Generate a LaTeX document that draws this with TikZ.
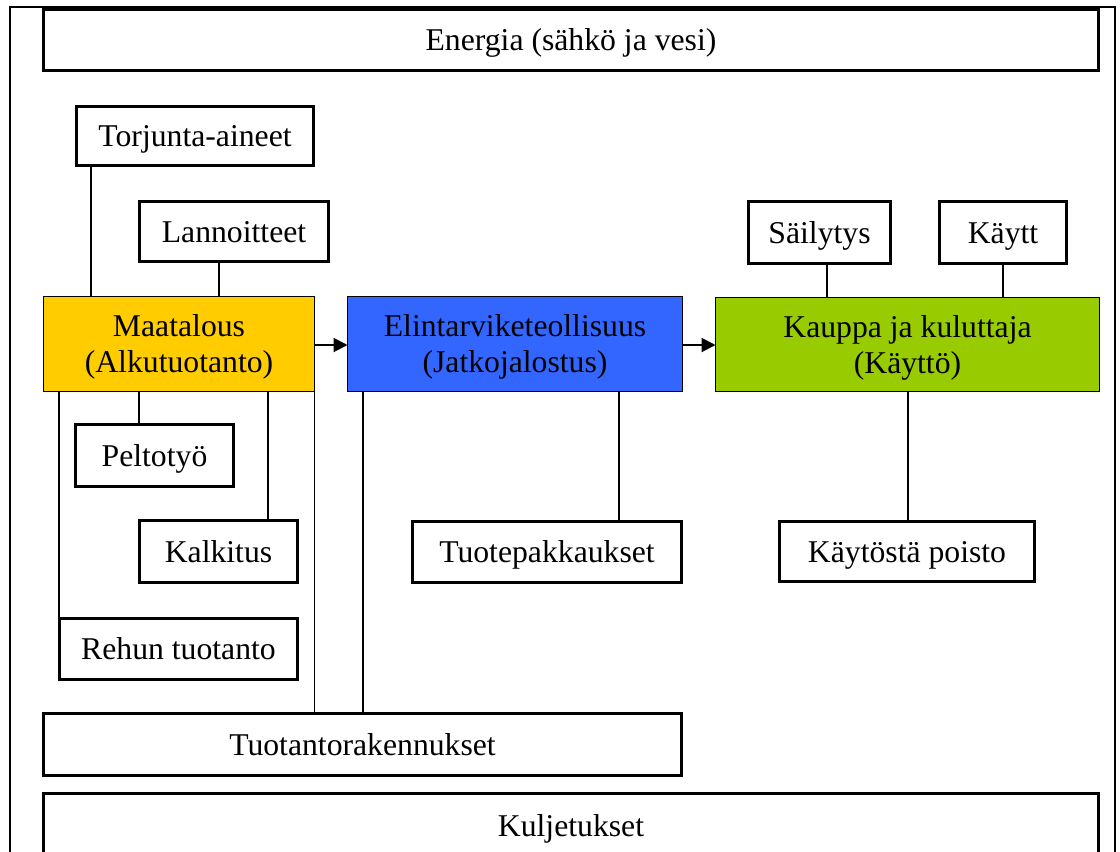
\documentclass[tikz,border=0pt]{standalone}
\usepackage{fontspec}
\setmainfont{Liberation Serif}
\usetikzlibrary{arrows.meta}
\definecolor{maatc}{HTML}{FFCC00}
\definecolor{elinc}{HTML}{3366FF}
\definecolor{kaupc}{HTML}{99CC00}
\begin{document}
\begin{tikzpicture}[x=1pt,y=-1pt,
  every node/.style={inner sep=0pt,outer sep=0pt,font=\fontsize{31.7}{36}\selectfont},
  plainbox/.style={draw,line width=3pt,fill=white,text height=21pt,text depth=0pt},
  mainbox/.style={draw,line width=1pt,align=center,text height=57pt,text depth=0pt},
  conn/.style={line width=1.3pt},
  flow/.style={line width=2pt,-{Triangle[length=14pt,width=14pt]}}]
\useasboundingbox (0,0) rectangle (1120,852);
\clip (0,0) rectangle (1120,852);
\fill[white] (0,0) rectangle (1120,852);
% outer frame
\draw[line width=1.8pt] (10,860) -- (10,7) -- (1115,7) -- (1115,860);
% boxes
\node[plainbox,minimum width=1055pt,minimum height=61pt] (energy) at (571,40) {Energia (sähkö ja vesi)};
\node[plainbox,minimum width=237pt,minimum height=59pt] (torj) at (195,136) {Torjunta-aineet};
\node[plainbox,minimum width=189pt,minimum height=60pt] (lann) at (234,231.5) {Lannoitteet};
\node[mainbox,fill=maatc,minimum width=271pt,minimum height=95pt] (maat) at (179,344) {Maatalous\\(Alkutuotanto)};
\node[mainbox,fill=elinc,minimum width=335pt,minimum height=95pt] (elin) at (515,344) {Elintarviketeollisuus\\(Jatkojalostus)};
\node[mainbox,fill=kaupc,minimum width=384pt,minimum height=94pt] (kaup) at (907.5,344.5) {Kauppa ja kuluttaja\\(Käyttö)};
\node[plainbox,minimum width=142pt,minimum height=62pt] (sail) at (819.5,232.5) {Säilytys};
\node[plainbox,minimum width=127pt,minimum height=62pt] (kaytt) at (1003,232.5) {Käytt};
\node[plainbox,minimum width=158pt,minimum height=62pt] (pelto) at (154.5,455.5) {Peltotyö};
\node[plainbox,minimum width=158pt,minimum height=62pt] (kalk) at (218.5,551.5) {Kalkitus};
\node[plainbox,minimum width=238pt,minimum height=61pt] (rehu) at (178.5,649) {Rehun tuotanto};
\node[plainbox,minimum width=269pt,minimum height=61pt] (tuote) at (547,552) {Tuotepakkaukset};
\node[plainbox,minimum width=255pt,minimum height=60pt] (kayto) at (907,551.5) {Käytöstä poisto};
\node[plainbox,minimum width=638pt,minimum height=62pt] (tuot) at (362.5,744.5) {Tuotantorakennukset};
\node[plainbox,minimum width=1055pt,minimum height=65pt] (kulj) at (571,826) {Kuljetukset};
% connectors
\draw[conn] ([xshift=-104pt]torj.south) -- ([xshift=-104pt]torj.south |- maat.north);
\draw[conn] ([xshift=-15pt]lann.south) -- ([xshift=-15pt]lann.south |- maat.north);
\draw[conn] ([xshift=-15.5pt]pelto.north |- maat.south) -- ([xshift=-15.5pt]pelto.north);
\draw[conn] ([xshift=49.5pt]kalk.north |- maat.south) -- ([xshift=49.5pt]kalk.north);
\draw[conn] ([xshift=-119.5pt]rehu.north |- maat.south) -- ([xshift=-119.5pt]rehu.north);
\draw[conn] (maat.south east) -- (maat.south east |- tuot.north);
\draw[conn] ([xshift=-152pt]elin.south) -- ([xshift=-152pt]elin.south |- tuot.north);
\draw[conn] ([xshift=72pt]tuote.north |- elin.south) -- ([xshift=72pt]tuote.north);
\draw[conn] ([xshift=7.5pt]sail.south) -- ([xshift=7.5pt]sail.south |- kaup.north);
\draw[conn] (kaytt.south) -- (kaytt.south |- kaup.north);
\draw[conn] ([xshift=1pt]kayto.north |- kaup.south) -- ([xshift=1pt]kayto.north);
\draw[flow] ([yshift=-1pt]maat.east) -- ([yshift=-1pt]maat.east -| elin.west);
\draw[flow] ([yshift=-1pt]elin.east) -- ([yshift=-1pt]elin.east -| kaup.west);
\end{tikzpicture}
\end{document}
